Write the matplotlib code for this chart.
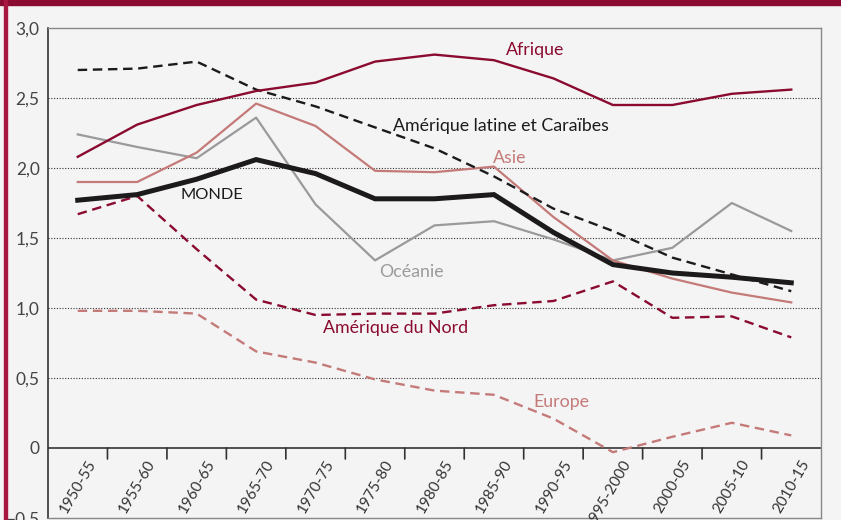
import numpy as np
import matplotlib.pyplot as plt
from matplotlib.patches import Rectangle

# Data
periods = ["1950-55", "1955-60", "1960-65", "1965-70", "1970-75", "1975-80", "1980-85",
           "1985-90", "1990-95", "1995-2000", "2000-05", "2005-10", "2010-15"]

afrique = [2.08, 2.31, 2.45, 2.55, 2.61, 2.76, 2.81, 2.77, 2.64, 2.45, 2.45, 2.53, 2.56]
amerique_latine = [2.70, 2.71, 2.76, 2.56, 2.44, 2.29, 2.14, 1.94, 1.71, 1.55, 1.36, 1.24, 1.12]
asie = [1.90, 1.90, 2.11, 2.46, 2.30, 1.98, 1.97, 2.01, 1.65, 1.34, 1.21, 1.11, 1.04]
oceanie = [2.24, 2.15, 2.07, 2.36, 1.74, 1.34, 1.59, 1.62, 1.49, 1.34, 1.43, 1.75, 1.55]
monde = [1.77, 1.81, 1.92, 2.06, 1.96, 1.78, 1.78, 1.81, 1.54, 1.31, 1.25, 1.22, 1.18]
amerique_nord = [1.67, 1.80, 1.42, 1.06, 0.95, 0.96, 0.96, 1.02, 1.05, 1.19, 0.93, 0.94, 0.79]
europe = [0.98, 0.98, 0.96, 0.69, 0.61, 0.49, 0.41, 0.38, 0.21, -0.03, 0.08, 0.18, 0.09]

y_ticks = [-0.5, 0, 0.5, 1.0, 1.5, 2.0, 2.5, 3.0]
y_labels = ["\u22120,5", "0", "0,5", "1,0", "1,5", "2,0", "2,5", "3,0"]

MAROON = "#8a0b2f"
ROSE = "#c47a78"
GREY = "#9a9a9c"
BLACK = "#1c1a1a"
BG = "#f4f4f4"

plt.rcParams["font.family"] = ["Lato", "DejaVu Sans"]

fig = plt.figure(figsize=(8.41, 5.20), dpi=100, facecolor=BG)
W, H = 841, 520
ax = fig.add_axes([48 / W, 2 / H, 773 / W, 490 / H])
ax.set_facecolor(BG)

# frame decoration: top bar and left rule
fig.patches.append(Rectangle((0, 1 - 5 / H), 1, 5 / H, transform=fig.transFigure,
                             color=MAROON, zorder=0))
fig.patches.append(Rectangle((4 / W, 0), 3 / W, 1, transform=fig.transFigure,
                             color="#a8173f", zorder=0))

x = np.arange(len(periods))
dash = (4, 2.4)

ax.plot(x, europe, color=ROSE, lw=1.7, dashes=dash, zorder=3)
ax.plot(x, amerique_nord, color=MAROON, lw=1.7, dashes=dash, zorder=3)
ax.plot(x, oceanie, color=GREY, lw=1.6, zorder=3)
ax.plot(x, asie, color=ROSE, lw=1.6, zorder=3)
ax.plot(x, monde, color=BLACK, lw=3.6, zorder=4, solid_joinstyle="miter")
ax.plot(x, amerique_latine, color=BLACK, lw=1.7, dashes=dash, zorder=5)
ax.plot(x, afrique, color=MAROON, lw=1.7, zorder=5)

# series labels
lab = dict(fontsize=12.8, va="center", ha="left", zorder=6)
ax.text(7.2, 2.84, "Afrique", color=MAROON, **lab)
ax.text(5.3, 2.30, "Amérique latine et Caraïbes", color=BLACK, **lab)
ax.text(6.98, 2.07, "Asie", color=ROSE, **lab)
ax.text(1.72, 1.81, "MONDE", color=BLACK, fontsize=11.8, va="center", ha="left", zorder=6)
ax.text(5.07, 1.26, "Océanie", color=GREY, **lab)
ax.text(4.12, 0.86, "Amérique du Nord", color=MAROON, **lab)
ax.text(7.66, 0.33, "Europe", color=ROSE, **lab)

# axes
ax.set_xlim(-0.5, len(periods) - 0.5)
ax.set_ylim(-0.5, 3.0)
ax.set_yticks(y_ticks)
ax.set_yticklabels(y_labels, fontsize=12.5, color="#444444")
ax.tick_params(axis="y", length=0, pad=6)
ax.set_xticks([])

for yv in [0.5, 1.0, 1.5, 2.0, 2.5]:
    ax.axhline(yv, color="#333333", lw=0.8, ls=(0, (1, 1.5)), zorder=1)
ax.axhline(0, color="#333333", lw=1.2, zorder=2)

for k in range(len(periods) - 1):
    ax.annotate("", xy=(k + 0.5, 0), xytext=(0, -11), textcoords="offset pixels",
                arrowprops=dict(arrowstyle="-", color="#333333", lw=1.2,
                                shrinkA=0, shrinkB=0))

for i, p in enumerate(periods):
    ax.annotate(p, xy=(i, 0), xytext=(15, -13), textcoords="offset pixels",
                rotation=60, rotation_mode="anchor", ha="right", va="center",
                fontsize=11, color="#333333")

for side in ["top", "right", "bottom"]:
    ax.spines[side].set_color("#888888")
    ax.spines[side].set_linewidth(1.0)
ax.spines["left"].set_color("#333333")
ax.spines["left"].set_linewidth(1.2)

fig.savefig("out.png", dpi=100, facecolor=BG)
